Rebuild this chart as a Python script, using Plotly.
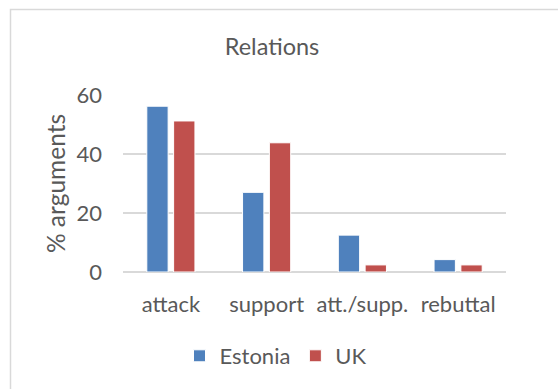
import plotly.graph_objects as go

categories = ["attack", "support", "att./supp.", "rebuttal"]
estonia = [56.2, 27.0, 12.5, 4.2]
uk = [51.2, 43.8, 2.4, 2.4]
y_ticks = [0, 20, 40, 60]

W, H = 558, 389
L, R, T, B = 123, 52, 95, 117
pw, ph = W - L - R, H - T - B

FONT = "Lato"
TXT = "#595959"
FS = 22

fig = go.Figure()
fig.add_trace(go.Bar(name="Estonia", x=categories, y=estonia,
                     marker=dict(color="#4f81bd", line=dict(color="white", width=1))))
fig.add_trace(go.Bar(name="UK", x=categories, y=uk,
                     marker=dict(color="#c0504d", line=dict(color="white", width=1))))

def px_x(p):
    return (p - L) / pw

def px_y(p):
    return (H - B - p) / ph

fig.update_layout(
    width=W, height=H,
    margin=dict(l=L, r=R, t=T, b=B, pad=0),
    paper_bgcolor="white", plot_bgcolor="white",
    font=dict(family=FONT, color=TXT, size=FS),
    barmode="group", bargap=0.44, bargroupgap=0.205,
    title=dict(text="Relations", x=272 / W, xref="container", xanchor="center",
               y=1 - 47 / H, yref="container", yanchor="middle",
               font=dict(size=23.5, color=TXT, family=FONT)),
    xaxis=dict(showgrid=False, showline=False, zeroline=False, ticks="",
               tickfont=dict(size=FS, color=TXT), ticklabelstandoff=17),
    yaxis=dict(range=[0, 60], tickvals=y_ticks, showgrid=True, gridcolor="#d9d9d9",
               gridwidth=1.5, zeroline=True, zerolinecolor="#d9d9d9", zerolinewidth=1.5,
               showline=False, ticks="", tickfont=dict(size=FS, color=TXT),
               ticklabelstandoff=20,
               title=dict(text="% arguments", font=dict(size=24.5, color=TXT), standoff=3)),
    legend=dict(orientation="h", xref="container", x=276 / W, xanchor="center",
                yref="container", y=1 - 356 / H, yanchor="middle",
                font=dict(size=FS, color=TXT), itemwidth=30),
    showlegend=True,
)

fig.add_shape(type="rect", xref="paper", yref="paper",
              x0=px_x(10.5), x1=px_x(W + 5), y0=px_y(H + 5), y1=px_y(9.5),
              line=dict(color="#d9d9d9", width=1.5), fillcolor="rgba(0,0,0,0)", layer="below")

fig.write_html("out.html")
